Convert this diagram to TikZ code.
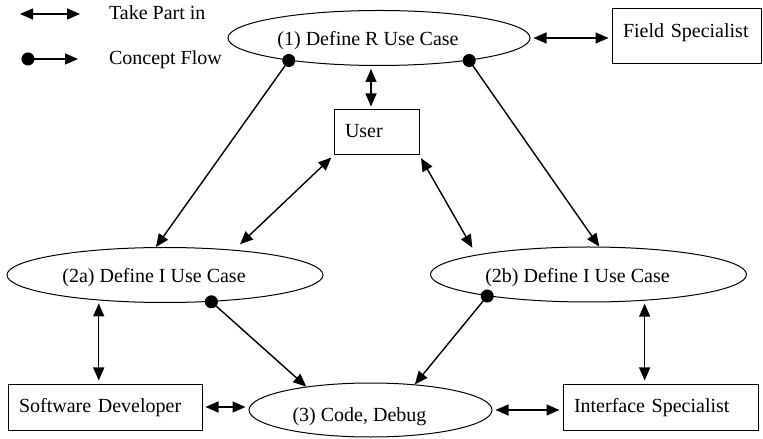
\documentclass[tikz,border=0pt]{standalone}
\usepackage{fontspec}
\setmainfont{Liberation Serif}
\usepackage{tikz}
\usetikzlibrary{arrows.meta}
\usetikzlibrary{shapes.geometric}
\usetikzlibrary{calc,positioning}

\begin{document}
\begin{tikzpicture}[x=0.5pt,y=0.5pt,
		usecase/.style={draw,ellipse,line width=0.5pt,inner sep=0pt,text height=8pt,text depth=0pt,execute at end node=\hspace{11pt}},
		actor/.style={draw,rectangle,line width=0.5pt,align=left,inner xsep=5.5pt,inner ysep=0pt,text height=7pt,text depth=2pt},
		takepart/.style={{Triangle[length=6.5pt,width=5.5pt]}-{Triangle[length=6.5pt,width=5.5pt]},line width=0.7pt,shorten <=1.5pt,shorten >=1.5pt},
		concept/.style={{Circle[length=6.5pt]}-{Triangle[length=6.5pt,width=5.5pt]},line width=0.7pt,shorten <=-3.25pt}]
		\useasboundingbox (0,0) rectangle (763,438);
		% legend
		\coordinate (tp1) at (20,424);
		\coordinate (tp2) at (80,424);
		\draw[takepart,shorten <=0pt,shorten >=0pt] (tp1) -- (tp2);
		\node[anchor=base west] (tplabel) at (102,418) {Take Part in};
		\coordinate (cf1) at (28,379);
		\coordinate (cf2) at (78,379);
		\draw[concept] (cf1) -- (cf2);
		\node[anchor=base west] (cflabel) at (102,373) {Concept Flow};
		% use cases
		\node[usecase,minimum width=151pt,minimum height=27.5pt] (r1) at (379,400) {(1) Define R Use Case};
		\node[usecase,minimum width=158pt,minimum height=27.5pt] (i2a) at (165,163) {(2a) Define I Use Case};
		\node[usecase,minimum width=158pt,minimum height=27.5pt] (i2b) at (588.5,163.5) {(2b) Define I Use Case};
		\node[usecase,minimum width=121.5pt,minimum height=27pt,text height=11pt] (code) at (370.5,28) {(3) Code, Debug};
		% people
		\node[actor,text width=63.5pt,minimum height=27.5pt,text depth=5.5pt] (field) at (686.5,401.5) {Field Specialist};
		\node[actor,text width=31.5pt,minimum height=22.5pt] (user) at (376.5,305.5) {User};
		\node[actor,text width=86pt,minimum height=23pt] (soft) at (105,31) {Software Developer};
		\node[actor,text width=86.5pt,minimum height=23pt] (iface) at (660.5,31) {Interface Specialist};
		% concept flow
		\draw[concept] (r1.194) -- (i2a.108);
		\draw[concept] (r1.346) -- (i2b.69);
		\draw[concept] (i2a.330) -- (code.160);
		\draw[concept] (i2b.192) -- (code.30);
		% take part in
		\draw[takepart] (r1.east) -- (r1.east -| field.west);
		\draw[takepart] ([xshift=-2.75pt]user.north) -- ([xshift=-2.75pt]user.north |- r1.south);
		\draw[takepart,shorten >=4pt] (user.south west) -- (i2a.20);
		\draw[takepart,shorten >=4pt] (user.south east) -- (i2b.170);
		\draw[takepart] (i2a.201) -- (i2a.201 |- soft.north);
		\draw[takepart] (i2b.335) -- (i2b.335 |- iface.north);
		\draw[takepart] (soft.east) -- (soft.east -| code.west);
		\draw[takepart] (code.east) -- (code.east -| iface.west);
	\end{tikzpicture}
\end{document}
